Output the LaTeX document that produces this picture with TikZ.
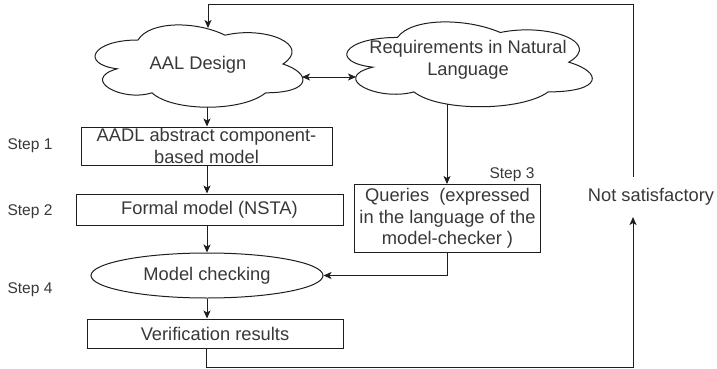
\documentclass[tikz,border=0pt]{standalone}
\usepackage{fontspec}
\setmainfont{Liberation Sans}
\usetikzlibrary{arrows.meta,shapes.geometric}
\definecolor{ink}{HTML}{1E1E1E}
\definecolor{txt}{HTML}{383838}
\newcommand{\drawioCloud}[4]{%
  \draw[cloudline, shift={(#1,#2)}, x=#3pt, y=-#4pt]
    (0.25,0.25) .. controls (0.05,0.25) and (0,0.5) .. (0.16,0.55)
    .. controls (0,0.66) and (0.18,0.9) .. (0.31,0.8)
    .. controls (0.4,1) and (0.7,1) .. (0.8,0.8)
    .. controls (1,0.8) and (1,0.6) .. (0.875,0.5)
    .. controls (1,0.3) and (0.8,0.1) .. (0.625,0.2)
    .. controls (0.5,0.05) and (0.3,0.05) .. (0.25,0.25) -- cycle;}
\begin{document}
\begin{tikzpicture}[x=1pt,y=-1pt,
  line width=1pt,
  every node/.style={font=\fontsize{18.3}{21.6}\selectfont, text=txt, inner sep=0pt},
  boxnode/.style={draw=ink, rectangle, align=center},
  stepnode/.style={font=\fontsize{15.5}{18}\selectfont},
  cloudline/.style={draw=ink},
  arr/.style={draw=ink, -{Stealth[length=8pt,width=7pt,inset=2pt]}},
  darr/.style={draw=ink, {Stealth[length=8pt,width=7pt,inset=2pt]}-{Stealth[length=8pt,width=7pt,inset=2pt]}}
]
\useasboundingbox (0,0) rectangle (717,369);

% clouds (drawn shapes) and their texts
\drawioCloud{80}{16}{232}{96}
\drawioCloud{329}{12.7}{274}{99}
\node (aal) at (198,65) {AAL Design};
\node[align=center] (req) at (468,59.5) {Requirements in Natural\\Language};

% attachment points on the cloud outlines
\coordinate (aalT) at (208,28);
\coordinate (aalB) at (207,107);
\coordinate (aalR) at (302,77);
\coordinate (reqL) at (356,77);
\coordinate (reqB) at (447,104);

% boxes
\node[boxnode, minimum width=251pt, minimum height=38pt] (b1) at (206.5,146) {AADL abstract component-\\based model};
\node[boxnode, minimum width=267pt, minimum height=31pt] (b2) at (209.5,209.5) {Formal model (NSTA)};
\node[draw=ink, ellipse, minimum width=232pt, minimum height=45pt] (mc) at (207,275.5) {Model checking};
\node[boxnode, minimum width=256pt, minimum height=29pt] (ver) at (215,333.5) {Verification results};
\node[boxnode, minimum width=186pt, minimum height=68pt] (q) at (447.5,218.5) {Queries~ (expressed\\in the language of the\\model-checker )};
\node[inner xsep=0pt, inner ysep=11pt] (ns) at (651,197) {Not satisfactory};

% step labels
\node[stepnode] (s1) at (30,146) {Step 1};
\node[stepnode] (s2) at (30,212) {Step 2};
\node[stepnode] (s3) at (512,175) {Step 3};
\node[stepnode] (s4) at (30,290) {Step 4};

% routing points
\coordinate (col) at (207,0);
\coordinate (vx) at (206,367);
\coordinate (rb) at (633,367);
\coordinate (rt) at (633,5);
\coordinate (lt) at (208,5);

% connectors
\draw[darr] (aalR) -- (reqL);
\draw[arr] (aalB) -- (b1.north -| aalB);
\draw[arr] (b1.south -| col) -- (b2.north -| col);
\draw[arr] (b2.south -| col) -- (mc.north);
\draw[arr] (mc.south) -- (ver.north -| mc.south);
\draw[arr] (reqB) -- (q.north -| reqB);
\draw[arr] (q.south) |- (mc.east);
\draw[arr] (ver.south -| vx) -- (vx) -- (rb) -- (ns.south -| rb);
\draw[arr] (ns.north -| rt) -- (rt) -- (lt) -- (aalT);
\end{tikzpicture}
\end{document}
